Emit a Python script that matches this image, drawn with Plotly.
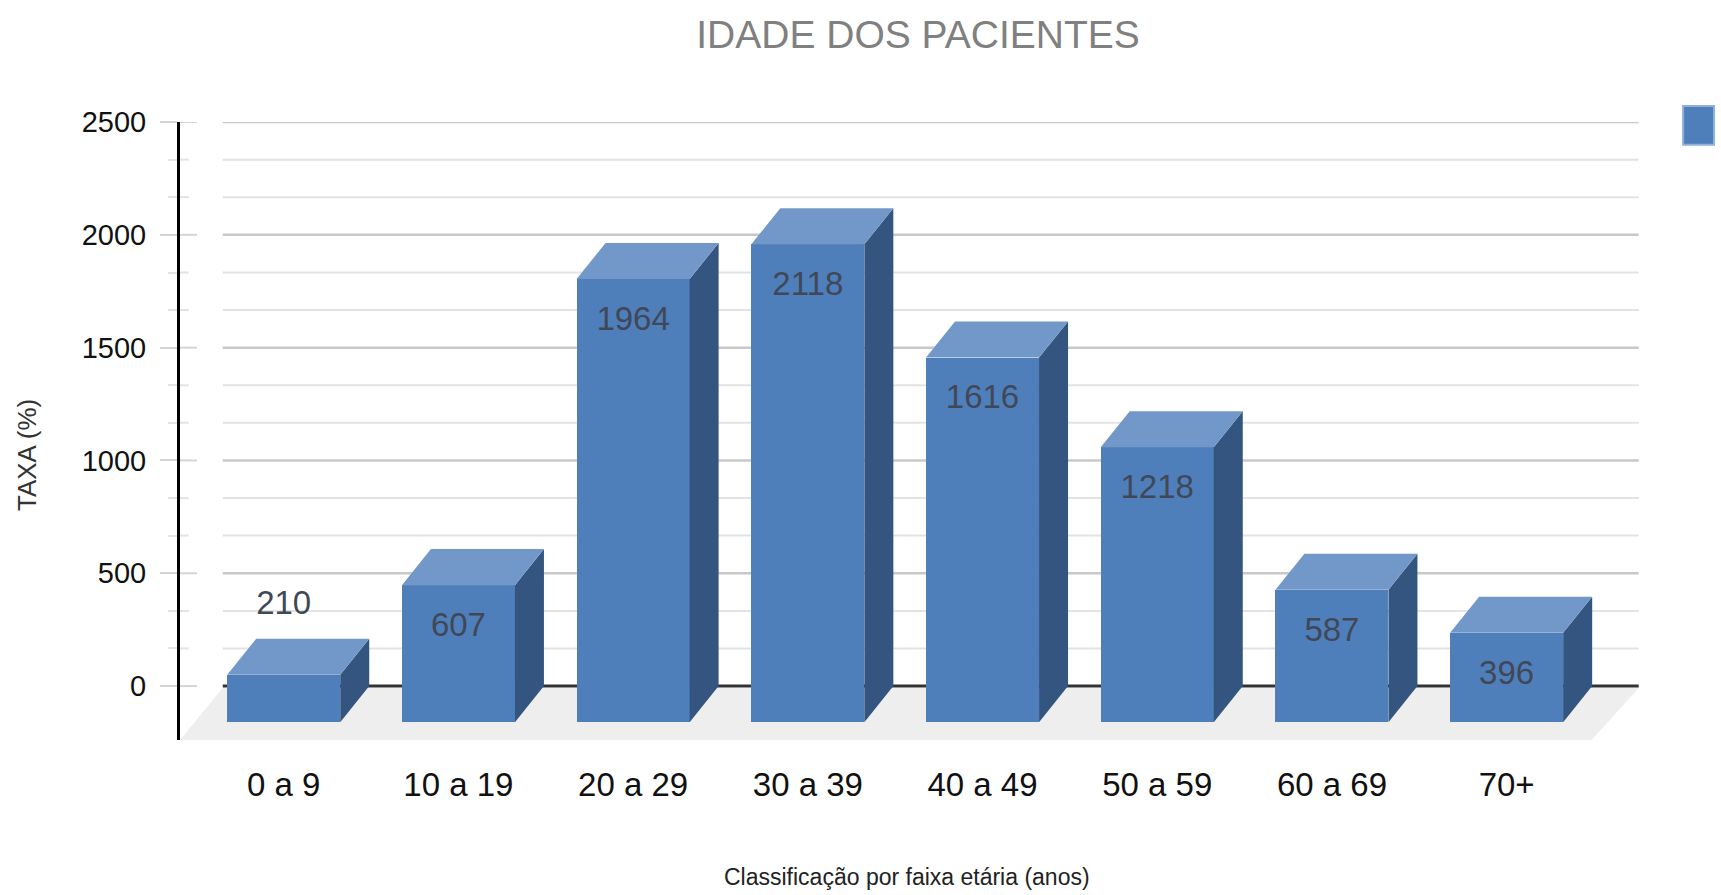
import plotly.graph_objects as go

CATEGORIES = ["0 a 9", "10 a 19", "20 a 29", "30 a 39", "40 a 49", "50 a 59", "60 a 69", "70+"]
VALUES = [210, 607, 1964, 2118, 1616, 1218, 587, 396]
LABEL_Y = [354, 258, 1615, 1769, 1267, 869, 238, 47]
MAJOR_TICKS = [0, 500, 1000, 1500, 2000, 2500]
MINOR_TICKS = [167, 333, 667, 833, 1167, 1333, 1667, 1833, 2167, 2333]

TITLE = "IDADE DOS PACIENTES"
X_TITLE = "Classificação por faixa etária (anos)"
Y_TITLE = "TAXA (%)"

FRONT, TOP, SIDE = "#4f7fba", "#7298c9", "#33557f"
FONT = "Liberation Sans, Arial, sans-serif"

W, H = 1721, 895
BAR_W = 0.647      # category units
DX = 0.166         # oblique depth, category units
DY = 160           # oblique depth, value units
X_RANGE = [-0.5936, 8.227]
Y_RANGE = [-239, 2500]
GRID_L, GRID_R = -0.349, 7.756
FLOOR_FRONT_R = 7.486
KEY_L, KEY_R = 8.01, 8.187   # category units

xs = list(range(len(CATEGORIES)))
fig = go.Figure()

shapes = [dict(type="path", layer="below", line_width=0, fillcolor="#eeeeee", xref="x", yref="y",
               path=f"M {X_RANGE[0]} {Y_RANGE[0]} L {FLOOR_FRONT_R} {Y_RANGE[0]} L {GRID_R} -8 L {GRID_L} -8 Z")]
for t in MINOR_TICKS:
    shapes.append(dict(type="line", layer="below", xref="x", yref="y", x0=GRID_L, x1=GRID_R, y0=t, y1=t,
                       line=dict(color="#e3e3e3", width=2)))
    shapes.append(dict(type="line", layer="below", xref="x", yref="y", x0=X_RANGE[0], x1=X_RANGE[0] + 0.05, y0=t, y1=t,
                       line=dict(color="#e3e3e3", width=2)))
for t in MAJOR_TICKS[1:]:
    shapes.append(dict(type="line", layer="below", xref="x", yref="y", x0=GRID_L, x1=GRID_R, y0=t, y1=t,
                       line=dict(color="#c8c8c8", width=2.5)))
    shapes.append(dict(type="line", layer="below", xref="x", yref="y", x0=X_RANGE[0], x1=X_RANGE[0] + 0.097, y0=t, y1=t,
                       line=dict(color="#d4d4d4", width=2)))
shapes.append(dict(type="line", layer="below", xref="x", yref="y", x0=X_RANGE[0], x1=X_RANGE[0] + 0.097, y0=0, y1=0,
                   line=dict(color="#d4d4d4", width=2)))
shapes.append(dict(type="line", layer="below", xref="x", yref="y", x0=GRID_L, x1=GRID_R, y0=0, y1=0,
                   line=dict(color="#333333", width=3)))
# unlabelled legend key of the single series
shapes.append(dict(type="rect", xref="x", yref="paper", x0=KEY_L, x1=KEY_R, y0=0.963, y1=1.026,
                   fillcolor=FRONT, line=dict(color="#8fb0d8", width=2)))

fig.add_trace(go.Bar(x=xs, y=VALUES, base=-DY, width=BAR_W, marker=dict(color=FRONT, line_width=0),
                     showlegend=False, hoverinfo="skip"))

for x, v in zip(xs, VALUES):
    l, r = x - BAR_W / 2, x + BAR_W / 2
    fig.add_trace(go.Scatter(x=[r, r + DX, r + DX, r, r], y=[-DY, 0, v, v - DY, -DY], mode="lines",
                             fill="toself", fillcolor=SIDE, line=dict(width=0), showlegend=False, hoverinfo="skip"))
    fig.add_trace(go.Scatter(x=[l, l + DX, r + DX, r, l], y=[v - DY, v, v, v - DY, v - DY], mode="lines",
                             fill="toself", fillcolor=TOP, line=dict(width=0), showlegend=False, hoverinfo="skip"))

fig.add_trace(go.Scatter(x=xs, y=LABEL_Y, mode="text", text=[str(v) for v in VALUES],
                         textfont=dict(family=FONT, size=33, color="#404858"),
                         textposition="middle center", showlegend=False, hoverinfo="skip"))

fig.update_layout(
    width=W, height=H, plot_bgcolor="white", paper_bgcolor="white",
    margin=dict(l=180, r=0, t=122, b=155, autoexpand=False),
    shapes=shapes, bargap=0,
    title=dict(text=TITLE, x=918 / W, xanchor="center", xref="container", y=1 - 34 / H, yanchor="middle",
               font=dict(family=FONT, size=39, color="#808080")),
    annotations=[
        dict(text=X_TITLE, xref="x", yref="paper", x=(907 - 283.7) / 174.7, y=-137 / 618, showarrow=False,
             xanchor="center", yanchor="middle", font=dict(family=FONT, size=23, color="#222222")),
        dict(text=Y_TITLE, xref="paper", yref="y", x=-153 / 1541, y=(686 - 455) / 0.2256, showarrow=False, textangle=-90,
             xanchor="center", yanchor="middle", font=dict(family=FONT, size=26, color="#333333")),
    ],
    xaxis=dict(range=X_RANGE, tickmode="array", tickvals=xs, ticktext=CATEGORIES, showgrid=False, zeroline=False,
               showline=False, ticks="", ticklabelstandoff=22,
               tickfont=dict(family=FONT, size=33, color="#111111")),
    yaxis=dict(range=Y_RANGE, tickmode="array", tickvals=MAJOR_TICKS, showgrid=False, zeroline=False,
               showline=True, linecolor="#000000", linewidth=3, ticks="outside", ticklen=17, tickcolor="#d4d4d4",
               tickwidth=2, ticklabelstandoff=8, tickfont=dict(family=FONT, size=29, color="#111111"),
               minor=dict(tickmode="array", tickvals=MINOR_TICKS, ticks="outside", ticklen=9, tickcolor="#e3e3e3", tickwidth=2)),
)

fig.write_html("out.html", config=dict(displayModeBar=False), post_script="document.body.style.margin='0';")
